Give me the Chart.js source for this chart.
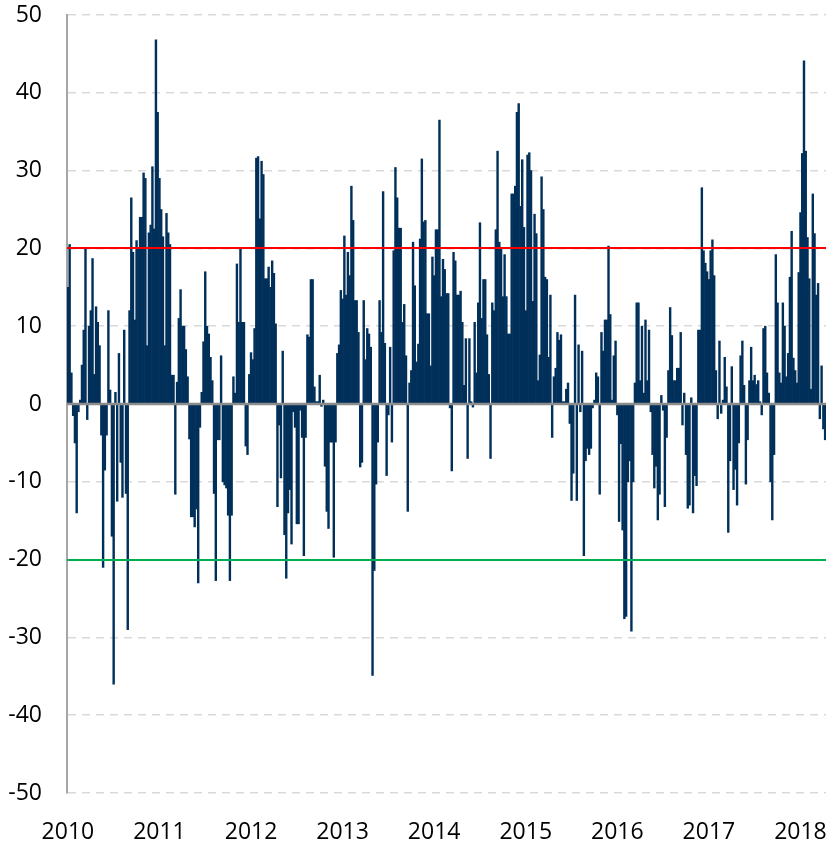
<!DOCTYPE html>
<html>
<head>
<meta charset="utf-8">
<script src="https://cdn.jsdelivr.net/npm/chart.js@4.4.1/dist/chart.umd.min.js"></script>
<style>
  html, body { margin: 0; padding: 0; background: #fff; }
  #wrap { width: 830px; height: 843px; }
</style>
</head>
<body>
<div id="wrap"><canvas id="weeklyChart"></canvas></div>
<script>
// weekly values (Jan 2010 -> spring 2018)
const weeklyChange = [
  15, 20.5, 4, -1.5, -5, -14, -1, 0.5, 5, 9.5, 20, -2, 10, 12, 18.7, 3.8, 12.5, 10.5, 7.5, -4,
  -21, -8.5, -4, 12, 1.8, -17, -36, 1.5, -12.5, 6.5, -7.5, -12, 9.5, -11.5, -29, 12, 26.5, 19.5, 10.8,
  21, 20, 24, 24, 29.7, 29, 7.5, 22, 23, 30.5, 22.5, 46.8, 37.5, 29, 25, 21.5, 7.5, 24.5, 22, 20.5,
  3.7, 3.7, -11.6, 2.8, 11, 14.7, 10, 10, 7, 3.5, -4.5, -14.5, -14.5, -15.8, -13.5, -23, -3, 1.5, 8, 17,
  10, 9, 6, 3, -11.5, -22.7, -4.6, -4.6, 6.2, -10, -10.4, -10.8, -14.3, -22.7, -14.3, 3.5, 1.4, 18, 10.5, 20,
  10.5, 10.5, -5.4, -6.5, 3.8, 6.6, 5.7, 9.7, 31.6, 31.8, 23.8, 31.2, 29.5, 16.1, 16.1, 17.6, 15, 18.4, 16.8, 10.3, -13.2,
  -2.7, -9.5, 6.8, -16.8, -22.4, -14, -11, -18, -1, -3, -15.4, -15.4, -0.8, -4.3, -19.5, -4.3, 8.9, 8.6, 16, 16,
  2.2, 0.3, 0.3, 3.7, -0.3, 0.5, -8, -13.8, -16, -4.9, -4.9, -19.7, -4.9, 6.5, 7.6, 14.6, 13.5, 21.6, 14, 19.5, 16.5,
  28, 23.6, 13.3, 13.3, 9.2, -8.1, -7.5, 13.3, 5.7, 9.7, 9, 7.3, -34.9, -21.4, -10.3, -4.9, 13.3, 9.2, 27.3, 7.8,
  -9.2, -1.4, 7.3, -4.9, 19.7, 30.4, 26.5, 22.6, 22.6, 10.5, 12.8, 6.2, -13.8, 2.7, 4.3, 20.8, 15.2, 5.4, 7.7, 21.2, 31.5,
  23.4, 23.6, 11.6, 11.6, 4.9, 18.9, 16.5, 22.4, 22.4, 36.5, 13.8, 18.6, 17.3, 14.2, 14.2, -0.5, -8.6, 19.5, 18.4,
  14, 14, 14.5, 10.5, 2.4, 8.4, -7, 8.4, 0.3, -0.4, 10.5, 4, 13, 23.3, 11, 16, 16, 8.9, 3.8,
  -7, 13, 12, 22.4, 32.5, 20.8, 20, 13.8, 19.2, 13.8, 9, 9, 27, 27, 28, 37.5, 38.6, 25.4, 31.4, 22.7,
  12, 32, 32.3, 30, 13.2, 24.4, 21.9, 3, 6.3, 29.2, 25, 16.3, 16, 6, 14, -4.3, 3.5, 4.6, 9.2, 8.2, 8.9,
  0.3, 0.3, 1.9, 2.7, -2.5, -12.4, -8.9, 14, -12.4, 7.6, -1, 6.8, -19.5, -7.3, -5.7, -6.5, -5.7, -0.5, 0.5,
  4, 3.5, -11.6, 9.2, 6.8, 10.8, 10.8, 20.3, 11.5, 0.5, 6.2, 8.1, -1.4, -15.1, -5.1, -16.2, -27.6, -27.3, -10, -7.3,
  -29.2, -10, 2.7, 13, 13, 3, 10, 1.4, 10.8, 3, 9.5, -1, -6.5, -10.8, -8, -14.9, -11.6, 1.1, -0.8, -13.2,
  -4.3, 4.3, 12.4, 8.8, 3, 3, 4.6, 4.6, 9.2, -2.7, 1.4, -6.5, -13.4, -13, 0.8, -14, -9.2, -10.5, 9.5,
  9.5, 27.8, 19.7, 18.1, 17, 16, 19.7, 21.1, 16.5, 4.3, -1.9, 8.1, -1.2, 0.5, 6, 2.2, -16.5, -7.3, 4.8, -11,
  -8.4, -13, -5, 6.2, 8.1, 2.4, -10.3, -4.6, 3, 7.3, 3, 3.7, 2.5, 3, 0.3, -1.4, 9.7, 10, 4, 1.4,
  -10, -14.9, -6.5, 19.2, 13, 4, 2.7, 13, 10, 3.5, 6.5, 16.3, 22.2, 5.9, 4.3, 2.7, 16.9, 24.6, 32.2, 44.1,
  32.5, 21.4, 16.1, 1.9, 27, 21.9, 14, 15.5, -1.9, 4.9, -3.2, -4.6
];

const yearLabels = ["2010", "2011", "2012", "2013", "2014", "2015", "2016", "2017", "2018"];
const weeksPerYear = 52;
const upperBand = 20;
const lowerBand = -20;

// one category per week, only the first week of each year gets a label
const weekLabels = weeklyChange.map(function (v, i) {
  return i % weeksPerYear === 0 ? yearLabels[i / weeksPerYear] || "" : "";
});

// zero line + the two band lines, drawn on top of the bars
const bandLines = {
  id: "bandLines",
  afterDatasetsDraw(chart) {
    const { ctx, chartArea, scales } = chart;
    const lines = [
      { v: 0, color: "#8c8c8c", w: 2.5 },
      { v: upperBand, color: "#ff0000", w: 2 },
      { v: lowerBand, color: "#00b050", w: 2 },
    ];
    ctx.save();
    lines.forEach(function (l) {
      const y = Math.round(scales.y.getPixelForValue(l.v));
      ctx.beginPath();
      ctx.strokeStyle = l.color;
      ctx.lineWidth = l.w;
      ctx.moveTo(chartArea.left, y);
      ctx.lineTo(chartArea.right, y);
      ctx.stroke();
    });
    ctx.restore();
  },
};

const ctx = document.getElementById("weeklyChart");

const weeklyBar = new Chart(ctx, {
  type: "bar",
  data: {
    labels: weekLabels,
    datasets: [
      {
        data: weeklyChange,
        backgroundColor: "#00305a",
        borderWidth: 0,
        barPercentage: 1,
        categoryPercentage: 1,
      },
    ],
  },
  options: {
    responsive: true,
    maintainAspectRatio: false,
    animation: false,
    layout: {
      padding: { top: 15, right: 4, left: 0, bottom: 0 },
    },
    plugins: {
      legend: { display: false },
      tooltip: { enabled: false },
    },
    scales: {
      x: {
        grid: { display: false },
        border: { display: false },
        ticks: {
          autoSkip: false,
          maxRotation: 0,
          padding: 18,
          color: "#000",
          font: { family: "Open Sans", size: 23 },
        },
        afterFit: function (scale) {
          scale.height = 50;
          scale.paddingLeft = 0;
          scale.paddingRight = 0;
        },
      },
      y: {
        min: -50,
        max: 50,
        ticks: {
          stepSize: 10,
          padding: 25,
          color: "#000",
          font: { family: "Open Sans", size: 23 },
        },
        grid: {
          color: "#d9d9d9",
          lineWidth: 1.5,
          drawTicks: false,
        },
        border: {
          display: true,
          color: "#a6a6a6",
          width: 2,
          dash: [8, 6],
        },
        afterFit: function (scale) {
          scale.width = 67;
          scale.paddingTop = 0;
          scale.paddingBottom = 0;
        },
      },
    },
  },
  plugins: [bandLines],
});
</script>
</body>
</html>
